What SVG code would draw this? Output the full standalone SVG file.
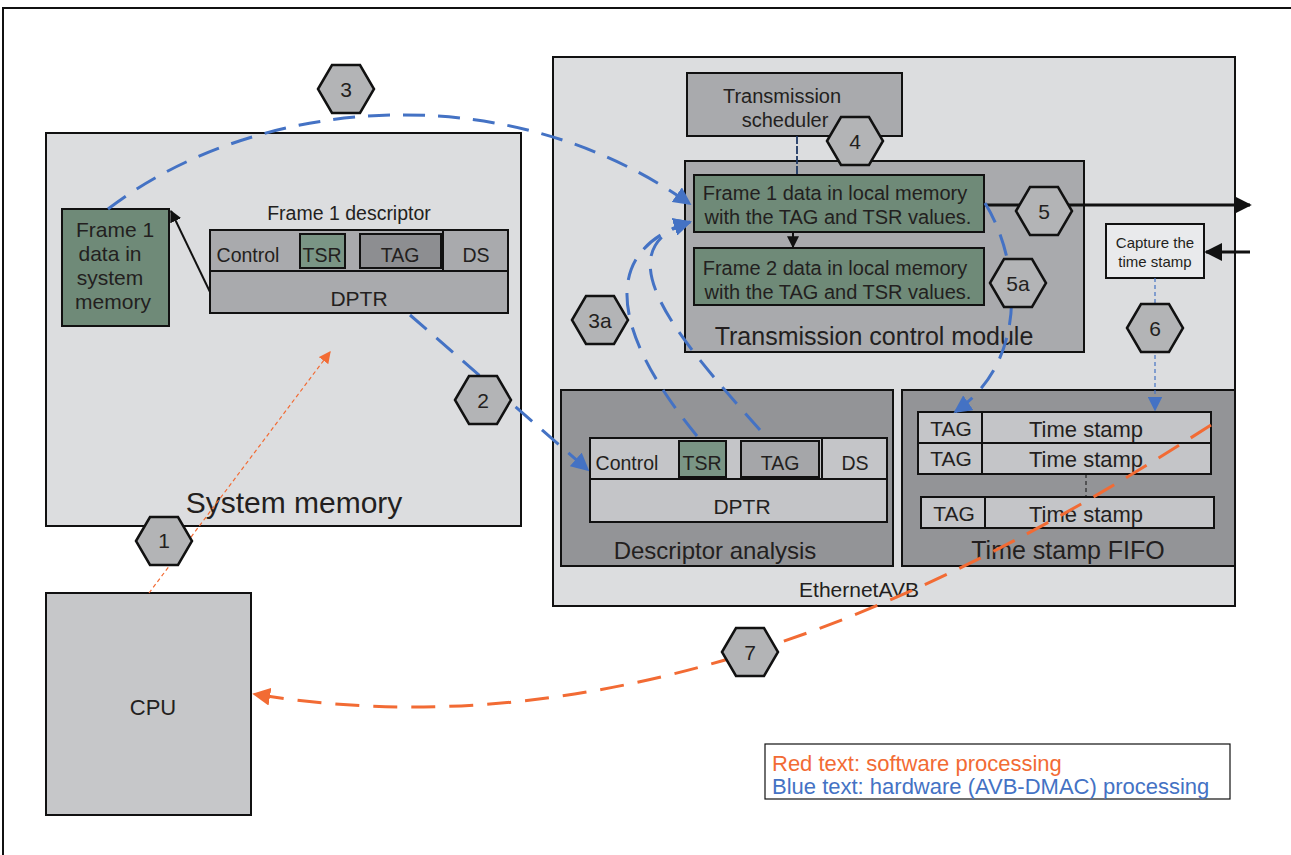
<svg xmlns="http://www.w3.org/2000/svg" width="1291" height="855" viewBox="0 0 1291 855">
<defs>
<style>
text{font-family:"Liberation Sans",Arial,sans-serif;fill:#231f20}
.box{stroke:#111;stroke-width:2}
.lt{fill:#dcdddf}
.md{fill:#a9aaad}
.dk{fill:#939497}
.lc{fill:#c4c5c8}
.gr{fill:#6f8a78}
.hex{fill:#b3b4b6;stroke:#111;stroke-width:2.5}
.hn{font-size:21px;text-anchor:middle}
.c{text-anchor:middle}
.bd{fill:none;stroke:#4472c4;stroke-width:3;stroke-dasharray:22 13}
.od{fill:none;stroke:#f26b34;stroke-width:3;stroke-dasharray:24 14}
</style>
<marker id="ab" viewBox="0 0 10 10" refX="9" refY="5" markerWidth="6" markerHeight="6" markerUnits="strokeWidth" orient="auto"><path d="M0,0L10,5L0,10z" fill="#111"/></marker>
<marker id="abl" viewBox="0 0 10 10" refX="9" refY="5" markerWidth="6" markerHeight="6" markerUnits="strokeWidth" orient="auto"><path d="M0,0L10,5L0,10z" fill="#4472c4"/></marker>
<marker id="abl2" viewBox="0 0 10 10" refX="9" refY="5" markerWidth="12" markerHeight="12" markerUnits="strokeWidth" orient="auto"><path d="M0,0L10,5L0,10z" fill="#4472c4"/></marker>
<marker id="aor" viewBox="0 0 10 10" refX="9" refY="5" markerWidth="6" markerHeight="6" markerUnits="strokeWidth" orient="auto"><path d="M0,0L10,5L0,10z" fill="#f26b34"/></marker>
<marker id="aor2" viewBox="0 0 10 10" refX="9" refY="5" markerWidth="10" markerHeight="10" markerUnits="strokeWidth" orient="auto"><path d="M0,0L10,5L0,10z" fill="#f26b34"/></marker>
<polygon id="hx" points="-28,0 -14,-24 14,-24 28,0 14,24 -14,24"/>
</defs>
<rect width="1291" height="855" fill="#fff"/>
<path d="M3,855V8H1291" fill="none" stroke="#111" stroke-width="2"/>

<g id="system-memory">
<rect class="box lt" x="46" y="133" width="475" height="393"/>
<text x="294" y="513" class="c" font-size="30">System memory</text>
</g>
<g id="frame1-data">
<rect class="box gr" x="62" y="209" width="107" height="117"/>
<text class="c" font-size="21" x="115"><tspan x="115" y="237">Frame 1</tspan><tspan x="110" y="261">data in</tspan><tspan x="110" y="285">system</tspan><tspan x="113" y="309">memory</tspan></text>
</g>
<g id="frame1-descriptor">
<text x="349" y="220" class="c" font-size="19.5">Frame 1 descriptor</text>
<rect class="box md" x="210" y="230" width="298" height="41"/>
<rect class="box gr" x="300" y="234" width="45" height="34" style="fill:#7a9585"/>
<rect class="box" x="360" y="234" width="81" height="34" fill="#8d8e91"/>
<line x1="443" y1="230" x2="443" y2="271" stroke="#111" stroke-width="2"/>
<text x="248" y="262" class="c" font-size="19.5">Control</text>
<text x="322" y="262" class="c" font-size="19.5">TSR</text>
<text x="400" y="262" class="c" font-size="19.5">TAG</text>
<text x="476" y="262" class="c" font-size="19.5">DS</text>
<rect class="box md" x="210" y="271" width="298" height="42"/>
<text x="359" y="306" class="c" font-size="21">DPTR</text>
</g>
<g id="cpu">
<rect class="box" x="46" y="593" width="205" height="222" fill="#c6c7c9"/>
<text x="153" y="715" class="c" font-size="22">CPU</text>
</g>

<g id="ethernet-avb">
<rect class="box lt" x="553" y="57" width="682" height="549"/>
<text x="859" y="597" class="c" font-size="21">EthernetAVB</text>
</g>
<g id="transmission-scheduler">
<rect class="box md" x="687" y="73" width="215" height="63"/>
<text class="c" font-size="20"><tspan x="782" y="103">Transmission</tspan><tspan x="785" y="127">scheduler</tspan></text>
</g>
<g id="transmission-control-module">
<rect class="box md" x="685" y="161" width="399" height="191"/>
<text x="874" y="345" class="c" font-size="25">Transmission control module</text>
</g>
<g id="frame1-local">
<rect class="box gr" x="694" y="175" width="290" height="57"/>
<text class="c" font-size="20"><tspan x="835" y="200">Frame 1 data in local memory</tspan><tspan x="838" y="224">with the TAG and TSR values.</tspan></text>
</g>
<g id="frame2-local">
<rect class="box gr" x="694" y="248" width="290" height="57"/>
<text class="c" font-size="20"><tspan x="835" y="275">Frame 2 data in local memory</tspan><tspan x="838" y="299">with the TAG and TSR values.</tspan></text>
</g>
<g id="capture">
<rect class="box" x="1106" y="224" width="98" height="54" fill="#e9eaec"/>
<text class="c" font-size="15"><tspan x="1155" y="248">Capture the</tspan><tspan x="1155" y="267">time stamp</tspan></text>
</g>
<g id="descriptor-analysis">
<rect class="box dk" x="561" y="390" width="332" height="176"/>
<text x="715" y="559" class="c" font-size="24">Descriptor analysis</text>
<rect class="box lc" x="590" y="438" width="297" height="41"/>
<rect class="box" x="679" y="441" width="47" height="36" fill="#7a9585"/>
<rect class="box" x="741" y="441" width="78" height="36" fill="#a5a6a9"/>
<line x1="822" y1="438" x2="822" y2="479" stroke="#111" stroke-width="2"/>
<text x="627" y="470" class="c" font-size="19.5">Control</text>
<text x="702" y="470" class="c" font-size="19.5">TSR</text>
<text x="780" y="470" class="c" font-size="19.5">TAG</text>
<text x="855" y="470" class="c" font-size="19.5">DS</text>
<rect class="box lc" x="590" y="479" width="297" height="43"/>
<text x="742" y="514" class="c" font-size="21">DPTR</text>
</g>
<g id="time-stamp-fifo">
<rect class="box dk" x="902" y="390" width="333" height="176"/>
<text x="1068" y="559" class="c" font-size="25">Time stamp FIFO</text>
<rect class="box lc" x="918" y="412" width="293" height="31"/>
<line x1="982" y1="412" x2="982" y2="443" stroke="#111" stroke-width="2"/>
<text x="951" y="436" class="c" font-size="21">TAG</text>
<text x="1086" y="437" class="c" font-size="22">Time stamp</text>
<rect class="box lc" x="918" y="443" width="293" height="31"/>
<line x1="982" y1="443" x2="982" y2="474" stroke="#111" stroke-width="2"/>
<text x="951" y="466" class="c" font-size="21">TAG</text>
<text x="1086" y="467" class="c" font-size="22">Time stamp</text>
<line x1="1086" y1="474" x2="1086" y2="497" stroke="#111" stroke-width="1" stroke-dasharray="4 3"/>
<rect class="box lc" x="921" y="497" width="293" height="31"/>
<line x1="985" y1="497" x2="985" y2="528" stroke="#111" stroke-width="2"/>
<text x="954" y="521" class="c" font-size="21">TAG</text>
<text x="1086" y="522" class="c" font-size="22">Time stamp</text>
</g>
<g id="legend">
<rect x="765" y="744" width="465" height="55" fill="#fff" stroke="#111" stroke-width="1.2"/>
<text x="772" y="771" font-size="22" style="fill:#f26b34">Red text: software processing</text>
<text x="772" y="794" font-size="22" style="fill:#4472c4">Blue text: hardware (AVB-DMAC) processing</text>
</g>

<g id="connectors">
<line x1="210" y1="292" x2="171" y2="211" stroke="#111" stroke-width="2" marker-end="url(#ab)"/>
<line x1="793" y1="232" x2="793" y2="247" stroke="#111" stroke-width="2" marker-end="url(#ab)"/>
<line x1="797" y1="136" x2="797" y2="175" stroke="#1f3864" stroke-width="1.8" stroke-dasharray="8 2"/>
<line x1="984" y1="205" x2="1250" y2="205" stroke="#111" stroke-width="3" marker-end="url(#ab)"/>
<line x1="1250" y1="252" x2="1206" y2="252" stroke="#111" stroke-width="3" marker-end="url(#ab)"/>
<line x1="149" y1="593" x2="330" y2="352" stroke="#f26b34" stroke-width="1.2" stroke-dasharray="4 3" marker-end="url(#aor2)"/>
<line x1="1155" y1="278" x2="1155" y2="410" stroke="#4472c4" stroke-width="1.2" stroke-dasharray="4 3" marker-end="url(#abl2)"/>
<path class="bd" d="M108,209 C250,100 500,70 690,204" marker-end="url(#abl)"/>
<path class="bd" d="M410,315 L588,470" marker-end="url(#abl)"/>
<path class="bd" d="M697,436 C610,330 600,250 690,222" marker-end="url(#abl)"/>
<path class="bd" d="M760,430 C680,340 600,250 690,222" marker-end="url(#abl)"/>
<path class="bd" d="M985,203 C1020,260 1030,360 955,412" marker-end="url(#abl)"/>
<path class="od" d="M1211,425 C1000,560 650,760 254,694" marker-end="url(#aor)"/>
</g>

<g id="hex-labels">
<g id="hex1"><use href="#hx" class="hex" x="164" y="541"/><text class="hn" x="164" y="548">1</text></g>
<g id="hex2"><use href="#hx" class="hex" x="483" y="400"/><text class="hn" x="483" y="408">2</text></g>
<g id="hex3"><use href="#hx" class="hex" x="346" y="89"/><text class="hn" x="346" y="97">3</text></g>
<g id="hex3a"><use href="#hx" class="hex" x="600" y="320"/><text class="hn" x="600" y="328">3a</text></g>
<g id="hex4"><use href="#hx" class="hex" x="855" y="141"/><text class="hn" x="855" y="149">4</text></g>
<g id="hex5"><use href="#hx" class="hex" x="1044" y="211"/><text class="hn" x="1044" y="219">5</text></g>
<g id="hex5a"><use href="#hx" class="hex" x="1018" y="283"/><text class="hn" x="1018" y="291">5a</text></g>
<g id="hex6"><use href="#hx" class="hex" x="1155" y="328"/><text class="hn" x="1155" y="336">6</text></g>
<g id="hex7"><use href="#hx" class="hex" x="750" y="652"/><text class="hn" x="750" y="660">7</text></g>
</g>
</svg>
